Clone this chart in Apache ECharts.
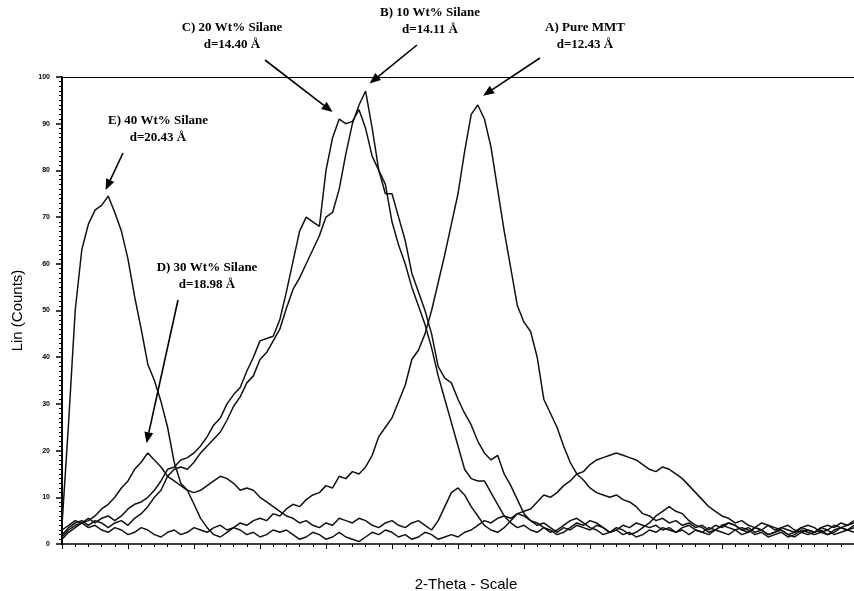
<!DOCTYPE html>
<html>
<head>
<meta charset="utf-8">
<script src="https://cdn.jsdelivr.net/npm/echarts@6/dist/echarts.min.js"></script>
<style>
  html, body { margin: 0; padding: 0; background: #fff; }
  #chart { width: 854px; height: 591px; }
</style>
</head>
<body>
<div id="chart"></div>
<script>
// 2-theta from 4 to 10 deg, one reading every 0.05 deg
var thetaStart = 4, thetaStep = 0.05;

var pureMMT = [1.5,3,4,4.5,3.5,4,3,2.5,3.5,3,2,2.5,3.5,3,2,1.5,2.5,3,2,2.5,
  3.5,3,2.5,3.5,4,3,3.5,4.5,4,5,5.5,5,6.5,6,7.5,8.5,8,9.5,10.5,11,
  12.5,12,14.5,14,15.5,15,16.5,19,23,25,27,30.5,34,39.5,41.5,45,50,56,62,68.5,
  75,84,92,94,91,85,76,67,59,51,47.5,45.5,40,31,28,25,21,17.5,15,13.7,
  12,11,10.5,10,10.5,9.5,9,8,6.5,6,5,5.5,4.5,5,4,4.5,3.5,4,3,4,
  3.5,4.5,4,3,3.5,2.5,3,4,3.5,3,2,2.5,3.5,3,2.5,3.5,4,3.5,4.5,4,4.5];

var silane10 = [2,3.5,4.5,5,4,5,4.5,3.5,4.5,5,4,5.5,6.5,8,10,11.5,14.5,16,16.5,16,
  17.5,19.5,21,22.5,24,26.5,29.5,31.5,34.5,36,39.5,41,43.5,46,50.5,54.5,57,60,63,66,
  70,71,76,83.5,90,94,97,89,80,75,75,70,65,58,54,50,45,38,35.5,34.5,
  31,28,25.5,22,19.5,18,19,15,12.5,9.5,6.5,5,4,4.5,3.5,2.5,3.5,3,4,3.5,
  3,4,3.5,2.5,3,4,3.5,4.5,4,3.5,4,3,3.5,2.5,3,2,3,2.5,3.5,3,
  4,3.5,3,2,2.5,3.5,3,2,2.5,3,2,1.5,2.5,3,2.5,3,2,2.5,3.5,3,3.5];

var silane20 = [3,4,5,4.5,5.5,4.5,5.5,6,5,6,7.5,8.5,9,10,11.5,13.5,16,16.5,18,18.5,
  19.5,21,23,25.5,27,30,32,33.5,37,40,43.5,44,44.5,48,54,60.5,67,70,69,68,
  80,87,91,90,90.5,93,89,83,80,77,69,64,60,55,51,47,42,36,31,26,
  21,16,14,13.5,13.5,11,8.5,6,4.5,3.5,4,3,2.5,3.5,3,2,2.5,3.5,4.5,4,
  5,4.5,3.5,2.5,3,2,2.5,1.5,2,3,2.5,3.5,3,2.5,3.5,4,3,2.5,2,3,
  2.5,2,3,3.5,3,2,2.5,1.5,2,2.5,1.5,2,3,2.5,2,2.5,3,2,2.5,3,2.5];

var silane30 = [1,2.5,3.5,4.5,5,6,7.5,8.5,10,12,13.5,16,17.5,19.5,18,16.5,14.5,13.5,12.5,11.5,
  11,11.5,12.5,13.5,14.5,14,13,11.5,12,11.5,10,9,8,7,6,5.5,4.5,5,4,3.5,
  4.5,4,5.5,5,4.5,5.5,5,4,3.5,4.5,5,4,3.5,4.5,5,4,3,5,8,11,
  12,10.5,8,6,4,3,2.5,3.5,5,6.5,6,5,4.5,3.5,2.5,3,4,5,5.5,4.5,
  3.5,3,2,2.5,3.5,3,2,2.5,3.5,4.5,6,7,8,7,6.5,5,4,3.5,2.5,3,
  4,4.5,4,3,2.5,3.5,3,2,2.5,3.5,3,2.5,3.5,4,3.5,2.5,2,3,3.5,3,4];

var silane40 = [4,26,50,63,68.5,71.5,72.5,74.5,71,67,61,53,46,38.5,35,30.5,25,17.5,13,11.5,
  8.5,5.5,3.5,2,1.5,2.5,3.5,3,2,2.5,1.5,2,3,2.5,3,2,1,1.5,2.5,2,
  1,1.5,2.5,1.5,1,0.5,1.5,2.5,2,3,2.5,1.5,2,1,1.5,2.5,2,1,1.5,2,
  1.5,2.5,3,4,5,4.5,5.5,6,5.5,6.5,7,7.5,9,10.5,10,11,12.5,13.5,15,15.5,
  17,18,18.5,19,19.5,19,18.5,18,17,16,15.5,16.5,16,15,14,12.5,11,9.5,8,7,
  6,5.5,4.5,5,4,3.5,4.5,4,3,3.5,4,3,2.5,2,2.5,3.5,3,4,3.5,4,5];

var yTicks = [0, 10, 20, 30, 40, 50, 60, 70, 80, 90, 100];

// annotation text and the peak each arrow points at [2-theta, counts]
var notes = [
  { lines: ['A) Pure MMT', 'd=12.43 Å'], text: [585, 36], tail: [540, 58], tip: [7.19, 96] },
  { lines: ['B) 10 Wt% Silane', 'd=14.11 Å'], text: [430, 21], tail: [417, 45], tip: [6.33, 98.6] },
  { lines: ['C) 20 Wt% Silane', 'd=14.40 Å'], text: [232, 36], tail: [265, 60], tip: [6.05, 92.5] },
  { lines: ['D) 30 Wt% Silane', 'd=18.98 Å'], text: [207, 276], tail: [178, 300], tip: [4.64, 21.6] },
  { lines: ['E) 40 Wt% Silane', 'd=20.43 Å'], text: [158, 129], tail: [123, 153], tip: [4.33, 75.8] }
];

function pairs(arr) {
  var out = [];
  for (var i = 0; i < arr.length; i++) {
    out.push([+(thetaStart + i * thetaStep).toFixed(2), arr[i]]);
  }
  return out;
}

function curve(name, arr) {
  return {
    name: name,
    type: 'line',
    data: pairs(arr),
    showSymbol: false,
    symbol: 'none',
    lineStyle: { color: '#111', width: 1.5 },
    animation: false,
    silent: true
  };
}

var chart = echarts.init(document.getElementById('chart'));
chart.setOption({
  backgroundColor: '#fff',
  animation: false,
  grid: { left: 62, right: 0, top: 77, bottom: 47, containLabel: false, outerBoundsMode: 'none' },
  xAxis: [{
    type: 'value',
    min: 4,
    max: 10,
    interval: 0.5,
    name: '2-Theta - Scale',
    nameLocation: 'middle',
    nameGap: 33,
    nameTextStyle: { fontFamily: 'Liberation Sans', fontSize: 15, color: '#000', padding: [0, 0, 0, 16] },
    axisLine: { lineStyle: { color: '#000', width: 1.5 } },
    axisTick: { show: true, length: 5, inside: false, lineStyle: { color: '#000' } },
    minorTick: { show: true, splitNumber: 5, length: 3, lineStyle: { color: '#000' } },
    axisLabel: { show: false },
    splitLine: { show: false }
  }, {
    type: 'value',
    position: 'top',
    min: 4,
    max: 10,
    axisLine: { show: true, lineStyle: { color: '#000', width: 1 } },
    axisTick: { show: false },
    axisLabel: { show: false },
    splitLine: { show: false }
  }],
  yAxis: {
    type: 'value',
    min: 0,
    max: 100,
    interval: 10,
    name: 'Lin (Counts)',
    nameLocation: 'middle',
    nameGap: 37,
    nameRotate: 90,
    nameTextStyle: { fontFamily: 'Liberation Sans', fontSize: 15, color: '#000' },
    axisLine: { show: true, lineStyle: { color: '#000', width: 2 } },
    axisTick: { show: true, length: 6, lineStyle: { color: '#000', width: 1.5 } },
    minorTick: { show: true, splitNumber: 10, length: 3, lineStyle: { color: '#000' } },
    axisLabel: {
      fontFamily: 'Liberation Sans', fontSize: 7, fontWeight: 'bold', color: '#000', margin: 12,
      formatter: function (v) { return yTicks.indexOf(v) >= 0 ? String(v) : ''; }
    },
    splitLine: { show: false }
  },
  series: [
    curve('A) Pure MMT', pureMMT),
    curve('B) 10 Wt% Silane', silane10),
    curve('C) 20 Wt% Silane', silane20),
    curve('D) 30 Wt% Silane', silane30),
    curve('E) 40 Wt% Silane', silane40)
  ]
});

// annotations: bold serif captions with arrows down to the peaks
var els = [];
notes.forEach(function (n) {
  var tip = chart.convertToPixel({ gridIndex: 0 }, n.tip);
  var tail = n.tail;
  els.push({
    type: 'text',
    x: n.text[0], y: n.text[1],
    style: {
      text: n.lines.join('\n'),
      align: 'center', verticalAlign: 'middle',
      font: 'bold 13px "Liberation Serif"',
      lineHeight: 17,
      fill: '#000'
    },
    z: 100
  });
  var dx = tip[0] - tail[0], dy = tip[1] - tail[1];
  var len = Math.sqrt(dx * dx + dy * dy);
  var ux = dx / len, uy = dy / len;
  var head = 11, half = 4.5;
  var bx = tip[0] - ux * head, by = tip[1] - uy * head;
  els.push({
    type: 'line',
    shape: { x1: tail[0], y1: tail[1], x2: bx, y2: by },
    style: { stroke: '#000', lineWidth: 1.6 },
    z: 100
  });
  els.push({
    type: 'polygon',
    shape: { points: [[tip[0], tip[1]], [bx - uy * half, by + ux * half], [bx + uy * half, by - ux * half]] },
    style: { fill: '#000' },
    z: 100
  });
});
chart.setOption({ graphic: els });
</script>
</body>
</html>
